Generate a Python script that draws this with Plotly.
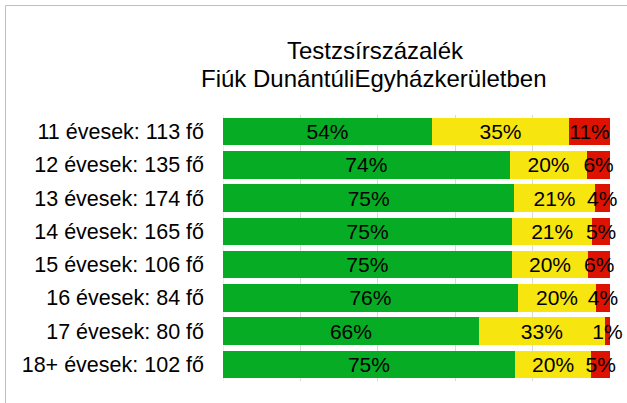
import plotly.graph_objects as go

categories = ["11 évesek: 113 fő", "12 évesek: 135 fő", "13 évesek: 174 fő", "14 évesek: 165 fő",
              "15 évesek: 106 fő", "16 évesek: 84 fő", "17 évesek: 80 fő", "18+ évesek: 102 fő"]
green_vals = [54.0, 74.1, 75.3, 74.7, 74.6, 76.2, 66.1, 75.4]
yellow_vals = [35.4, 20.0, 20.7, 20.7, 19.8, 20.2, 32.6, 19.8]
red_vals = [10.6, 5.9, 4.0, 4.6, 5.6, 3.6, 1.3, 4.8]
title_lines = ["Testzsírszázalék", "Fiúk DunántúliEgyházkerületben"]

series = [
    ("Zöld", green_vals, "rgb(6,172,36)"),
    ("Sárga", yellow_vals, "rgb(246,229,14)"),
    ("Piros", red_vals, "rgb(222,18,0)"),
]

FONT = "Liberation Sans, Arial, sans-serif"
W, H = 627, 403
ML, MR, MT, MB = 223, 17, 115, 22
PW, PH = W - ML - MR, H - MT - MB


def py(yp):
    return (H - MB - yp) / PH


def px(xp):
    return (xp - ML) / PW


fig = go.Figure()
for name, vals, col in series:
    fig.add_trace(go.Bar(
        y=categories, x=vals, name=name, orientation="h",
        marker=dict(color=col, line=dict(width=0)),
        texttemplate="%{x:.0f}%", textposition="inside", textangle=0,
        insidetextanchor="middle", constraintext="none",
        textfont=dict(family=FONT, size=21, color="black"),
        hoverinfo="skip", cliponaxis=False,
    ))

fig.update_layout(
    barmode="stack", bargap=0.18,
    width=W, height=H,
    margin=dict(l=ML, r=MR, t=MT, b=MB),
    paper_bgcolor="white", plot_bgcolor="white",
    showlegend=False,
    uniformtext=dict(mode="show", minsize=21),
    font=dict(family=FONT, color="black"),
)
fig.add_annotation(text=title_lines[0], xref="paper", yref="paper", x=px(375), y=py(50),
                   xanchor="center", yanchor="middle", showarrow=False,
                   font=dict(family=FONT, size=24, color="black"))
fig.add_annotation(text=title_lines[1], xref="paper", yref="paper", x=px(374), y=py(78),
                   xanchor="center", yanchor="middle", showarrow=False,
                   font=dict(family=FONT, size=24, color="black"))
fig.update_xaxes(range=[0, 100], dtick=20, showticklabels=False, showgrid=True,
                 gridcolor="#d9d9d9", gridwidth=1, zeroline=False, fixedrange=True)
fig.update_yaxes(autorange="reversed", categoryorder="array", categoryarray=categories,
                 tickfont=dict(size=21.5, color="black"), ticklabelstandoff=18,
                 showgrid=False, zeroline=False)
fig.add_shape(type="line", xref="x", yref="paper", x0=0, x1=0, y0=0, y1=1,
              line=dict(color="#d9d9d9", width=1), layer="below")
# outer chart border (left and top edges visible)
fig.add_shape(type="line", xref="paper", yref="paper",
              x0=px(5.5), x1=px(5.5), y0=py(403), y1=py(5.5),
              line=dict(color="#bfbfbf", width=1))
fig.add_shape(type="line", xref="paper", yref="paper",
              x0=px(5.5), x1=px(627), y0=py(5.5), y1=py(5.5),
              line=dict(color="#bfbfbf", width=1))

fig.write_html("out.html", config={"displayModeBar": False},
               post_script="document.body.style.margin='0';document.body.style.overflow='hidden';")
